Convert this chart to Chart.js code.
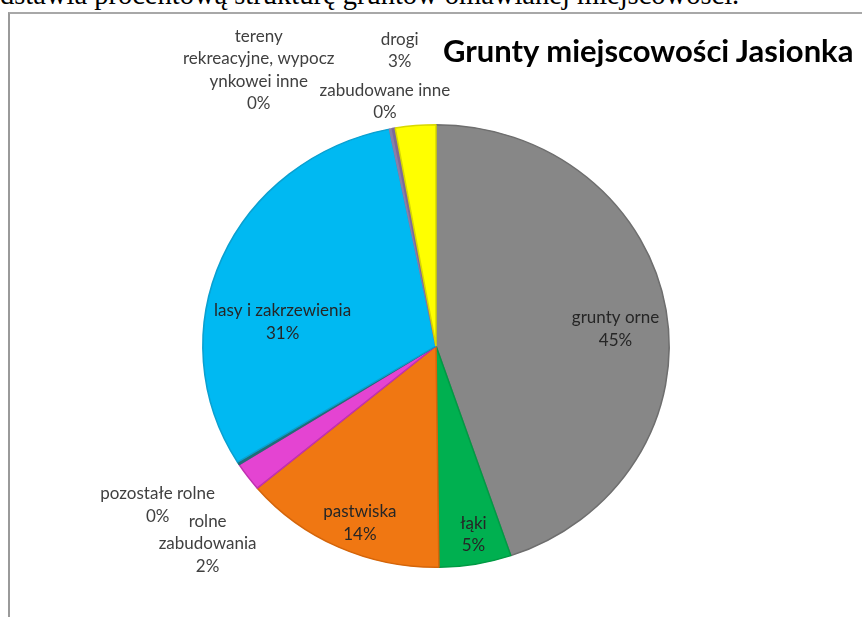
<!DOCTYPE html>
<html>
<head>
<meta charset="utf-8">
<script src="https://cdn.jsdelivr.net/npm/chart.js@4.4.0/dist/chart.umd.min.js"></script>
<style>
  html, body { margin: 0; padding: 0; background: #fff; overflow: hidden; }
  #wrap { position: relative; width: 862px; height: 617px; }
  #doc { position: absolute; left: 0; top: -21px; font-family: "Liberation Serif", "DejaVu Serif", serif; font-size: 28.5px; color: #000; white-space: nowrap; }
  #frame { position: absolute; left: 8px; top: 12px; width: 900px; height: 700px; border-left: 2px solid #9a9a9a; border-top: 2px solid #a8a8a8; }
  #title { position: absolute; left: 443px; top: 31px; font-family: Lato, "Open Sans", sans-serif; font-weight: bold; font-size: 31px; color: #000; white-space: nowrap; }
  canvas { position: absolute; left: 0; top: 0; }
</style>
</head>
<body>
<div id="wrap">
  <div id="doc">dstawia procentową strukturę gruntów omawianej miejscowości.</div>
  <div id="frame"></div>
  <canvas id="myChart" width="862" height="617"></canvas>
  <div id="title">Grunty miejscowości Jasionka</div>
</div>
<script>
// dane (udział w %)
const labels = ['grunty orne', 'łąki', 'pastwiska', 'rolne zabudowania', 'pozostałe rolne',
  'lasy i zakrzewienia', 'tereny rekreacyjne, wypoczynkowe i inne', 'zabudowane inne', 'drogi'];
const values = [44.8, 5.0, 14.1, 2.1, 0.2, 30.6, 0.2, 0.2, 2.8];
const colors = ['#878787', '#00b050', '#f07712', '#e444d2', '#1f6f78', '#00b9f2', '#8a7fa8', '#7d6a9a', '#ffff00'];
const borders = ['#6e6e6e', '#009a44', '#d4650a', '#c030b0', '#1f6f78', '#0aa0d0', '#8a7fa8', '#7d6a9a', '#d8d800'];

// etykiety: linie tekstu oraz położenie względem środka koła (w promieniach)
const labelLines = [
  ['grunty orne'], ['łąki'], ['pastwiska'], ['rolne', 'zabudowania'], ['pozostałe rolne'],
  ['lasy i zakrzewienia'], ['tereny', 'rekreacyjne, wypocz', 'ynkowei inne'], ['zabudowane inne'], ['drogi']
];
const labelAnchor = [
  [0.79, -0.075], [0.165, 0.83], [-0.335, 0.78], [-1.005, 0.87], [-1.225, 0.70],
  [-0.675, -0.105], [-0.78, -1.215], [-0.225, -1.075], [-0.16, -1.30]
];
const labelColor = ['#262626', '#262626', '#262626', '#404040', '#404040', '#262626', '#404040', '#404040', '#404040'];

const total = values.reduce((a, b) => a + b, 0);

// lekko spłaszczone koło jak w oryginale + etykiety
const pieLook = {
  id: 'pieLook',
  beforeDatasetsDraw(chart) {
    const arc = chart.getDatasetMeta(0).data[0];
    const c = chart.ctx;
    c.save();
    c.translate(arc.x, arc.y);
    c.scale(1.026, 0.974);
    c.translate(-arc.x, -arc.y);
  },
  afterDatasetsDraw(chart) {
    const c = chart.ctx;
    c.restore();
    const arc = chart.getDatasetMeta(0).data[0];
    const cx = arc.x, cy = arc.y, r = arc.outerRadius;
    c.save();
    c.font = '17px Lato, "Open Sans", sans-serif';
    c.textAlign = 'center';
    c.textBaseline = 'middle';
    const lh = 22.5;
    values.forEach((v, i) => {
      const lines = labelLines[i].concat([Math.round(v / total * 100) + '%']);
      const x = cx + labelAnchor[i][0] * r;
      const y0 = cy + labelAnchor[i][1] * r - (lines.length - 1) * lh / 2;
      c.fillStyle = labelColor[i];
      lines.forEach((t, k) => c.fillText(t, x, y0 + k * lh));
    });
    c.restore();
  }
};

const ctx = document.getElementById('myChart').getContext('2d');
new Chart(ctx, {
  type: 'pie',
  data: {
    labels: labels,
    datasets: [{
      data: values,
      backgroundColor: colors,
      borderColor: borders,
      borderWidth: 1.5
    }]
  },
  options: {
    responsive: false,
    animation: false,
    layout: { padding: { top: 118, bottom: 43, left: 208, right: 198 } },
    plugins: {
      legend: { display: false },
      tooltip: { enabled: false },
      title: { display: false }
    }
  },
  plugins: [pieLook]
});
</script>
</body>
</html>
